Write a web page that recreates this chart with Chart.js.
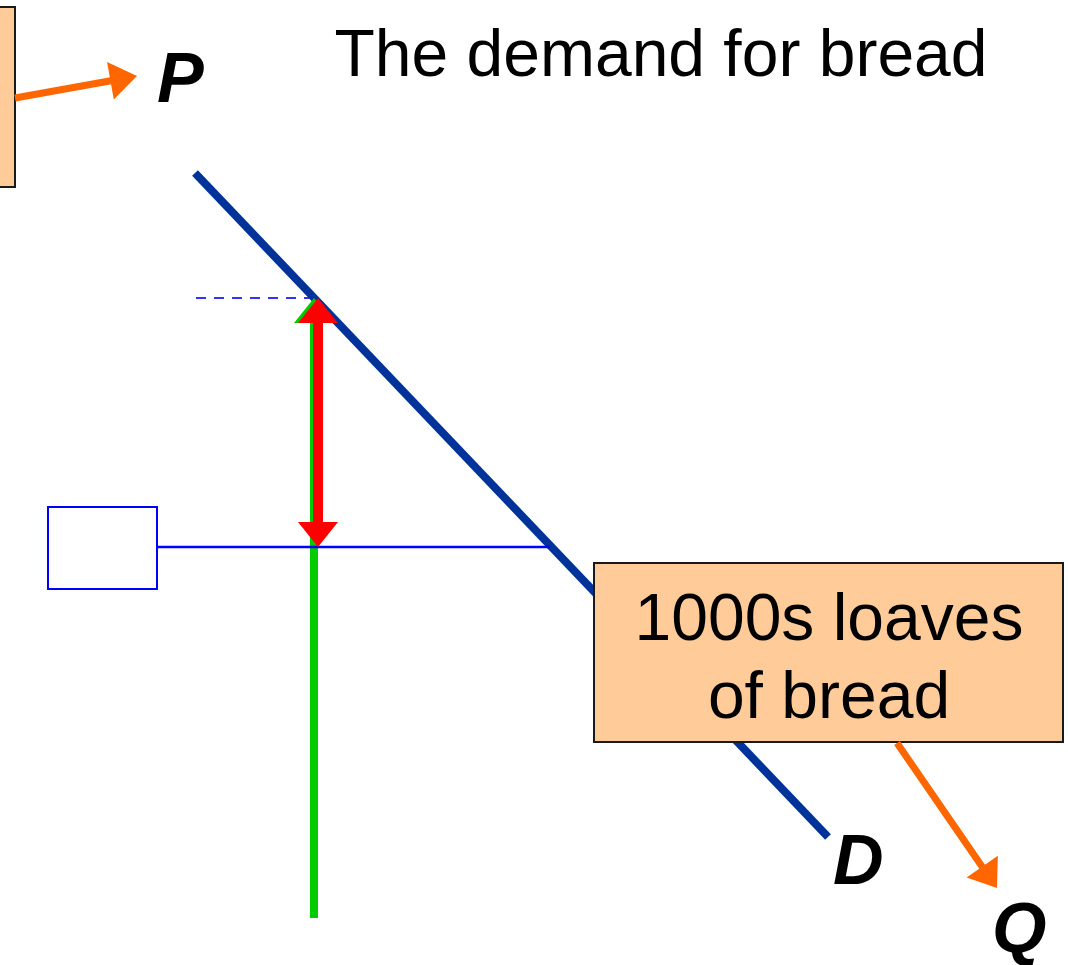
<!DOCTYPE html>
<html>
<head>
<meta charset="utf-8">
<script src="https://cdn.jsdelivr.net/npm/chart.js@4/dist/chart.umd.min.js"></script>
<style>
  body { margin: 0; background: #fff; }
  #wrap { width: 1068px; height: 965px; }
</style>
</head>
<body>
<div id="wrap"><canvas id="myChart"></canvas></div>
<script>
// demand curve end points (quantity, price) - price axis runs top to bottom
var demandQ = [195, 828];
var demandP = [173, 837];
// dashed price guide
var guideQ = [196, 312];
var guideP = [298, 298];
// fixed supply (green) and the price gap (red)
var supplyQ = [314, 314];
var supplyP = [918, 310];
var gapQ = [318, 318];
var gapP = [318, 528];
// lower price line to the empty box
var lowQ = [157, 550];
var lowP = [547, 547];

var titleText = 'The demand for bread';
var boxText = ['1000s loaves', 'of bread'];
var axisLabels = ['P', 'D', 'Q'];

function pts(xs, ys) {
    return xs.map(function (x, i) { return {x: x, y: ys[i]}; });
}

function arrowHead(ctx, x1, y1, x2, y2, len, half, color) {
    var a = Math.atan2(y2 - y1, x2 - x1);
    ctx.save();
    ctx.fillStyle = color;
    ctx.beginPath();
    ctx.moveTo(x2, y2);
    ctx.lineTo(x2 - len * Math.cos(a) + half * Math.sin(a), y2 - len * Math.sin(a) - half * Math.cos(a));
    ctx.lineTo(x2 - len * Math.cos(a) - half * Math.sin(a), y2 - len * Math.sin(a) + half * Math.cos(a));
    ctx.closePath();
    ctx.fill();
    ctx.restore();
}

var extras = {
    id: 'extras',
    afterDatasetsDraw: function (chart) {
        var ctx = chart.ctx;
        var sx = chart.scales.x, sy = chart.scales.y;
        function X(v) { return sx.getPixelForValue(v); }
        function Y(v) { return sy.getPixelForValue(v); }

        // arrow heads on the vertical lines
        arrowHead(ctx, X(314), Y(400), X(314), Y(298), 25, 20, '#00cc00');
        arrowHead(ctx, X(318), Y(400), X(318), Y(298), 25, 20, '#ff0000');
        arrowHead(ctx, X(318), Y(450), X(318), Y(547), 25, 20, '#ff0000');

        // empty blue box
        ctx.save();
        ctx.strokeStyle = '#0000ff';
        ctx.lineWidth = 2;
        ctx.fillStyle = '#ffffff';
        ctx.fillRect(X(48), Y(507), X(157) - X(48), Y(589) - Y(507));
        ctx.strokeRect(X(48), Y(507), X(157) - X(48), Y(589) - Y(507));
        ctx.restore();

        // orange label boxes
        ctx.save();
        ctx.fillStyle = '#ffcc99';
        ctx.strokeStyle = '#1a1a1a';
        ctx.lineWidth = 2;
        [[-20, 7, 15, 187], [594, 563, 1063, 742]].forEach(function (b) {
            ctx.fillRect(X(b[0]), Y(b[1]), X(b[2]) - X(b[0]), Y(b[3]) - Y(b[1]));
            ctx.strokeRect(X(b[0]), Y(b[1]), X(b[2]) - X(b[0]), Y(b[3]) - Y(b[1]));
        });
        ctx.restore();

        // orange pointer arrows
        ctx.save();
        ctx.strokeStyle = '#ff6600';
        ctx.lineWidth = 7;
        ctx.beginPath();
        ctx.moveTo(X(15), Y(98));
        ctx.lineTo(X(115), Y(80));
        ctx.moveTo(X(897), Y(743));
        ctx.lineTo(X(983), Y(868));
        ctx.stroke();
        ctx.restore();
        arrowHead(ctx, X(15), Y(98), X(137), Y(76), 27, 19, '#ff6600');
        arrowHead(ctx, X(897), Y(743), X(997), Y(888), 26, 19, '#ff6600');

        // texts
        ctx.save();
        ctx.fillStyle = '#000';
        ctx.textBaseline = 'alphabetic';
        ctx.textAlign = 'center';
        ctx.font = '66px "Liberation Sans", Arial, sans-serif';
        ctx.fillText(titleText, X(661), Y(76));
        ctx.fillText(boxText[0], X(829), Y(640));
        ctx.fillText(boxText[1], X(829), Y(718));
        ctx.textAlign = 'left';
        ctx.font = 'italic bold 70px "Liberation Sans", Arial, sans-serif';
        ctx.fillText(axisLabels[0], X(157), Y(102));
        ctx.fillText(axisLabels[1], X(833), Y(884));
        ctx.fillText(axisLabels[2], X(992), Y(952));
        ctx.restore();
    }
};

var ctx = document.getElementById('myChart').getContext('2d');
var myChart = new Chart(ctx, {
    type: 'scatter',
    data: {
        datasets: [{
            data: pts(lowQ, lowP),
            borderColor: '#0000ff',
            borderWidth: 2.5,
            order: 1
        }, {
            data: pts(gapQ, gapP),
            borderColor: '#ff0000',
            borderWidth: 10,
            order: 2
        }, {
            data: pts(supplyQ, supplyP),
            borderColor: '#00cc00',
            borderWidth: 8,
            order: 3
        }, {
            data: pts(demandQ, demandP),
            borderColor: '#003399',
            borderWidth: 8,
            order: 4
        }, {
            data: pts(guideQ, guideP),
            borderColor: '#3333ff',
            borderWidth: 2,
            borderDash: [10, 8],
            order: 5
        }]
    },
    options: {
        responsive: true,
        maintainAspectRatio: false,
        animation: false,
        devicePixelRatio: 1,
        showLine: true,
        elements: {
            point: { radius: 0, hoverRadius: 0 },
            line: { borderCapStyle: 'butt', tension: 0 }
        },
        layout: { padding: 0 },
        plugins: {
            legend: { display: false },
            tooltip: { enabled: false }
        },
        scales: {
            x: { type: 'linear', min: 0, max: 1068, display: false },
            y: { type: 'linear', min: 0, max: 965, reverse: true, display: false }
        }
    },
    plugins: [extras]
});
</script>
</body>
</html>
